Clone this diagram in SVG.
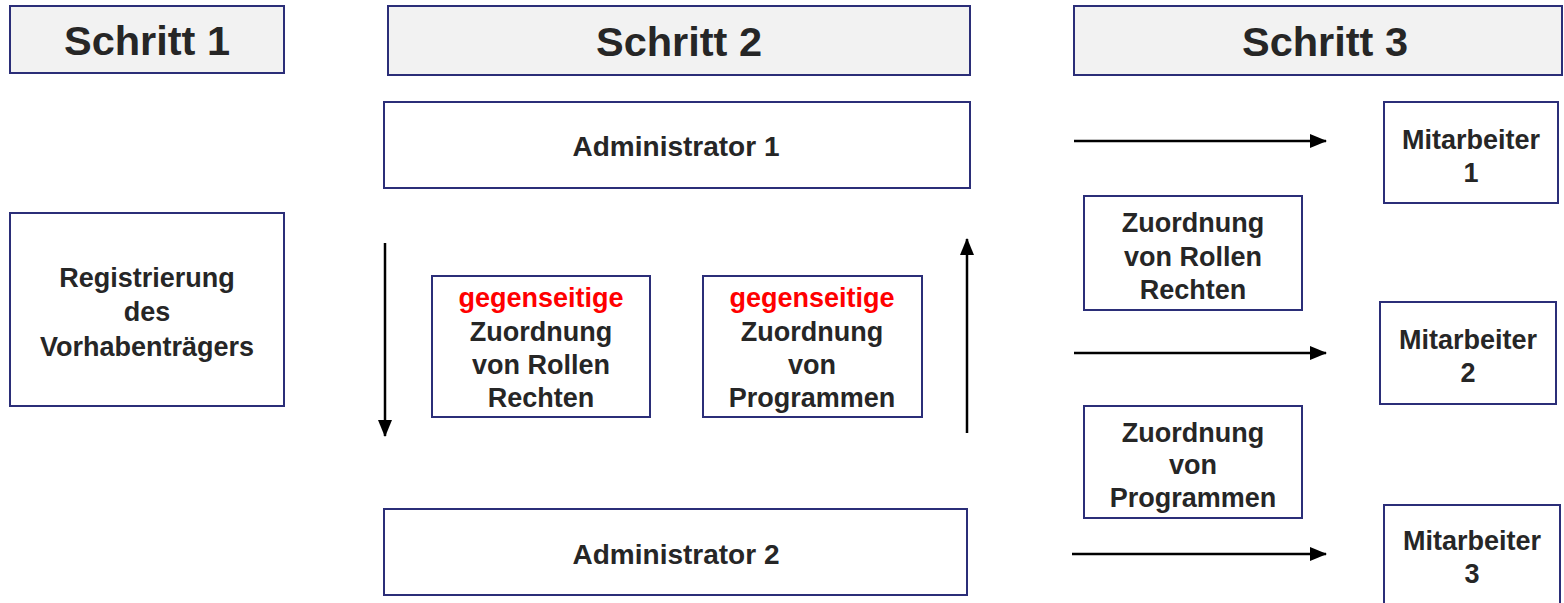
<svg xmlns="http://www.w3.org/2000/svg" width="1564" height="603" viewBox="0 0 1564 603">
<style>
.hdr{fill:#f2f2f2;stroke:#2b2e78;stroke-width:2}
.box{fill:#ffffff;stroke:#2b2e78;stroke-width:2}
.t{font-family:"Liberation Sans",Arial,sans-serif;font-weight:bold;fill:#262626;text-anchor:middle}
.h{font-size:41.5px}
.b{font-size:27px}
.a{font-size:28px}
.red{fill:#ff0000}
.c{stroke:#000;stroke-width:2.5;fill:none;marker-end:url(#ah)}
</style>
<defs>
<marker id="ah" markerWidth="17" markerHeight="14" refX="16" refY="7" orient="auto" markerUnits="userSpaceOnUse">
<path d="M0,0 L17,7 L0,14 Z" fill="#000"/>
</marker>
</defs>
<rect width="1564" height="603" fill="#fff"/>
<g id="schritt1"><rect class="hdr" x="10" y="6" width="274" height="67"/><text class="t h" x="147" y="55">Schritt 1</text></g>
<g id="schritt2"><rect class="hdr" x="388" y="6" width="582" height="69"/><text class="t h" x="679" y="56">Schritt 2</text></g>
<g id="schritt3"><rect class="hdr" x="1074" y="6" width="488" height="69"/><text class="t h" x="1325" y="56">Schritt 3</text></g>
<g id="admin1"><rect class="box" x="384" y="102" width="586" height="86"/><text class="t a" x="676" y="156">Administrator 1</text></g>
<g id="admin2"><rect class="box" x="384" y="509" width="583" height="86"/><text class="t a" x="676" y="564">Administrator 2</text></g>
<g id="registrierung"><rect class="box" x="10" y="213" width="274" height="193"/>
<text class="t b" x="147" y="287">Registrierung</text><text class="t b" x="147" y="321">des</text><text class="t b" x="147" y="356">Vorhabenträgers</text></g>
<g id="gegen1"><rect class="box" x="432" y="276" width="218" height="141"/>
<text class="t b red" x="541" y="307">gegenseitige</text><text class="t b" x="541" y="341">Zuordnung</text><text class="t b" x="541" y="374">von Rollen</text><text class="t b" x="541" y="407">Rechten</text></g>
<g id="gegen2"><rect class="box" x="703" y="276" width="219" height="141"/>
<text class="t b red" x="812" y="307">gegenseitige</text><text class="t b" x="812" y="341">Zuordnung</text><text class="t b" x="812" y="374">von</text><text class="t b" x="812" y="407">Programmen</text></g>
<g id="zuordRollen"><rect class="box" x="1084" y="196" width="218" height="114"/>
<text class="t b" x="1193" y="232">Zuordnung</text><text class="t b" x="1193" y="266">von Rollen</text><text class="t b" x="1193" y="299">Rechten</text></g>
<g id="zuordProg"><rect class="box" x="1084" y="406" width="218" height="112"/>
<text class="t b" x="1193" y="442">Zuordnung</text><text class="t b" x="1193" y="474">von</text><text class="t b" x="1193" y="507">Programmen</text></g>
<g id="mitarbeiter1"><rect class="box" x="1384" y="102" width="174" height="101"/>
<text class="t b" x="1471" y="149">Mitarbeiter</text><text class="t b" x="1471" y="182">1</text></g>
<g id="mitarbeiter2"><rect class="box" x="1380" y="302" width="176" height="102"/>
<text class="t b" x="1468" y="349">Mitarbeiter</text><text class="t b" x="1468" y="382">2</text></g>
<g id="mitarbeiter3"><rect class="box" x="1384" y="505" width="176" height="104"/>
<text class="t b" x="1472" y="550">Mitarbeiter</text><text class="t b" x="1472" y="583">3</text></g>
<g id="connectors">
<line class="c" x1="385" y1="243" x2="385" y2="436"/>
<line class="c" x1="967" y1="433" x2="967" y2="239"/>
<line class="c" x1="1074" y1="141" x2="1326" y2="141"/>
<line class="c" x1="1074" y1="353" x2="1326" y2="353"/>
<line class="c" x1="1072" y1="554" x2="1326" y2="554"/>
</g>
</svg>
